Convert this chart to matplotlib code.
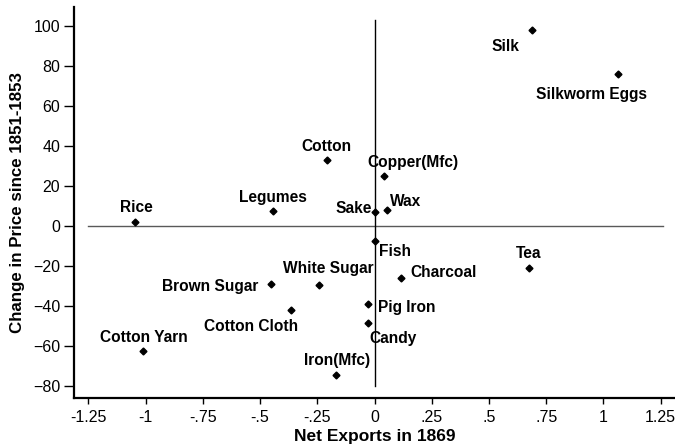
import matplotlib
matplotlib.use('Agg')
import matplotlib.pyplot as plt

plt.rcParams['font.family'] = ['Liberation Sans', 'DejaVu Sans']

# Productos y valores
goods = ['Silk', 'Silkworm Eggs', 'Cotton', 'Copper(Mfc)', 'Sake', 'Wax',
         'Legumes', 'Rice', 'Fish', 'Tea', 'Charcoal', 'White Sugar',
         'Brown Sugar', 'Cotton Cloth', 'Pig Iron', 'Candy', 'Cotton Yarn',
         'Iron(Mfc)']
net_exports = [0.687, 1.066, -0.209, 0.043, 0.0, 0.053,
               -0.445, -1.047, 0.0, 0.677, 0.114, -0.241,
               -0.454, -0.366, -0.030, -0.030, -1.010, -0.168]
price_change = [98.2, 76.0, 33.2, 25.1, 7.3, 8.2,
                7.8, 2.2, -7.5, -20.8, -25.7, -29.5,
                -28.9, -42.0, -38.7, -48.4, -62.4, -74.4]

x_ticks = [-1.25, -1, -0.75, -0.5, -0.25, 0, 0.25, 0.5, 0.75, 1, 1.25]
x_tick_labels = ['-1.25', '-1', '-.75', '-.5', '-.25', '0', '.25', '.5',
                 '.75', '1', '1.25']
y_ticks = [-80, -60, -40, -20, 0, 20, 40, 60, 80, 100]

# posición de cada etiqueta respecto al punto (píxeles) y alineación
label_pos = {
    'Silk': (-12, -17, 'right'),
    'Silkworm Eggs': (-27, -20, 'center'),
    'Cotton': (0, 13, 'center'),
    'Copper(Mfc)': (29, 13, 'center'),
    'Sake': (-3, 3, 'right'),
    'Wax': (3, 8, 'left'),
    'Legumes': (0, 13, 'center'),
    'Rice': (1, 14, 'center'),
    'Fish': (4, -10, 'left'),
    'Tea': (-1, 14, 'center'),
    'Charcoal': (10, 5, 'left'),
    'White Sugar': (9, 17, 'center'),
    'Brown Sugar': (-12, -2, 'right'),
    'Cotton Cloth': (-40, -16, 'center'),
    'Pig Iron': (10, -4, 'left'),
    'Candy': (2, -15, 'left'),
    'Cotton Yarn': (1, 14, 'center'),
    'Iron(Mfc)': (1, 14, 'center'),
}

fig = plt.figure(figsize=(6.75, 4.44), dpi=100)
ax = fig.add_axes([74 / 675, 1 - 398 / 444, 601 / 675, 391 / 444])

ax.plot([-1.25, 1.26], [0, 0], color='0.35', lw=1, zorder=1)
ax.plot([0, 0], [-80, 103], color='black', lw=1, zorder=1)

ax.plot(net_exports, price_change, linestyle='none', marker='D',
        markersize=3.5, color='black', zorder=3)

for name, x, y in zip(goods, net_exports, price_change):
    dx, dy, ha = label_pos[name]
    ax.annotate(name, (x, y), xytext=(dx, dy), textcoords='offset pixels',
                ha=ha, va='center', fontsize=11.2, fontweight='bold')

ax.set_xlim(-1.313, 1.313)
ax.set_ylim(-85.9, 109.6)
ax.set_xticks(x_ticks)
ax.set_xticklabels(x_tick_labels)
ax.set_yticks(y_ticks)

for side in ['top', 'right']:
    ax.spines[side].set_visible(False)
for side in ['left', 'bottom']:
    ax.spines[side].set_linewidth(1.6)

ax.tick_params(axis='y', direction='out', length=7, width=1, labelsize=11.5, pad=3)
ax.tick_params(axis='x', direction='out', length=4.5, width=1, labelsize=11.5, pad=4)

ax.set_xlabel('Net Exports in 1869', fontsize=12.5, fontweight='bold', labelpad=3)
ax.set_ylabel('Change in Price since 1851-1853', fontsize=12.2,
              fontweight='bold', labelpad=6)

fig.savefig('out.png', dpi=100)
